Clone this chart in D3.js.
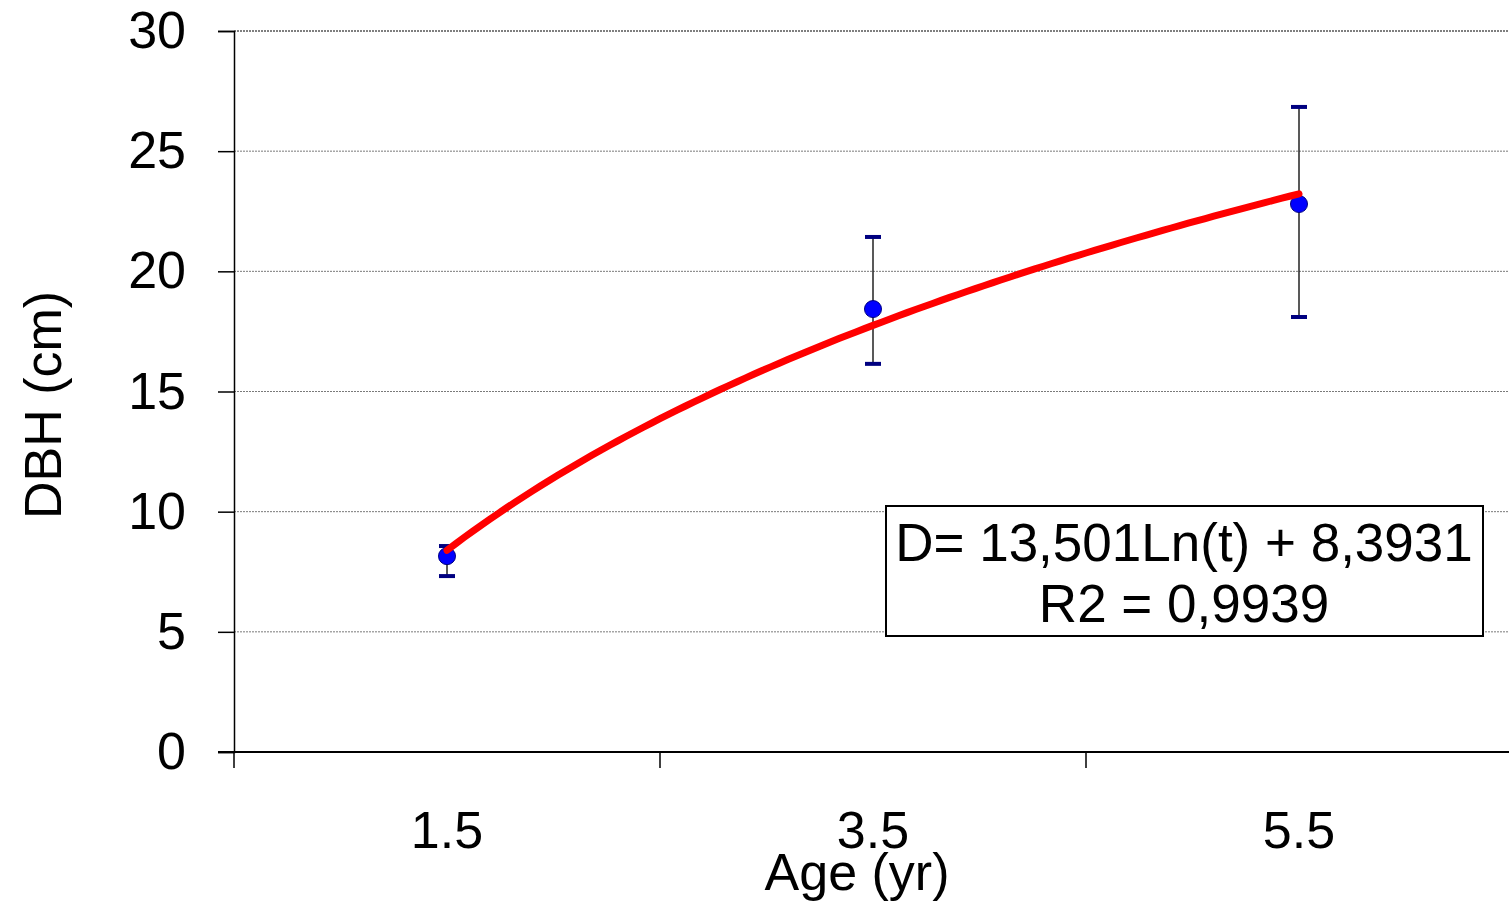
<!DOCTYPE html>
<html>
<head>
<meta charset="utf-8">
<script src="https://cdn.jsdelivr.net/npm/d3@7"></script>
<style>
  body { margin: 0; background: #fff; }
  text { font-family: 'Liberation Sans', Arial, sans-serif; fill: #000; }
</style>
</head>
<body>
<div id="viz"></div>
<script>
'use strict';

// data
const ages = ['1.5', '3.5', '5.5'];
const dbhMean = [8.15, 18.43, 22.8];
const dbhLow = [7.32, 16.15, 18.1];
const dbhHigh = [8.57, 21.43, 26.84];
const yTicks = [0, 5, 10, 15, 20, 25, 30];

// trend line as printed on the chart: D = a Ln(t) + b, t = 1..3
const trendA = 13.501;
const trendB = 8.3931;
const trendText = ['D= 13,501Ln(t) + 8,3931', 'R2 = 0,9939'];

const W = 1509, H = 904;
const margin = {top: 31, right: 0, bottom: 152, left: 234};
const height = H - margin.top - margin.bottom;

const svg = d3.select('#viz')
  .append('svg')
    .attr('width', W)
    .attr('height', H);

const x = d3.scaleBand()
  .domain(ages)
  .range([margin.left, margin.left + 3 * 426]);

// continuous index scale for the trend line (t = 1 at first category)
const t = d3.scaleLinear()
  .domain([0.5, 3.5])
  .range([margin.left, margin.left + 3 * 426]);

const y = d3.scaleLinear()
  .domain([0, 30])
  .range([margin.top + height, margin.top]);

// gridlines
svg.append('g')
  .selectAll('line')
  .data(yTicks.filter(d => d > 0))
  .join('line')
    .attr('x1', margin.left)
    .attr('x2', W)
    .attr('y1', d => y(d))
    .attr('y2', d => y(d))
    .attr('stroke', d => d === 30 ? '#555' : '#7a7a7a')
    .attr('stroke-width', d => d === 30 ? 1.5 : 1)
    .attr('stroke-dasharray', '2,1');

// Y axis
const yAxis = svg.append('g')
  .attr('transform', `translate(${margin.left},0)`)
  .call(d3.axisLeft(y).tickValues(yTicks).tickSize(16).tickPadding(32));
yAxis.select('.domain').attr('stroke', '#000').attr('stroke-width', 1.5);
yAxis.selectAll('.tick line').attr('stroke', '#000').attr('stroke-width', 1.5);
yAxis.selectAll('.tick text')
  .attr('font-size', 52)
  .attr('font-family', "'Liberation Sans', Arial, sans-serif");

// X axis line
svg.append('line')
  .attr('x1', margin.left - 16)
  .attr('x2', W)
  .attr('y1', y(0))
  .attr('y2', y(0))
  .attr('stroke', '#000')
  .attr('stroke-width', 2);

// X ticks at category boundaries
svg.append('g')
  .selectAll('line')
  .data(ages)
  .join('line')
    .attr('x1', d => x(d))
    .attr('x2', d => x(d))
    .attr('y1', y(0))
    .attr('y2', y(0) + 16)
    .attr('stroke', '#000')
    .attr('stroke-width', 1.5);

svg.append('g')
  .selectAll('text')
  .data(ages)
  .join('text')
    .attr('x', d => x(d) + x.bandwidth() / 2)
    .attr('y', 848)
    .attr('text-anchor', 'middle')
    .attr('font-size', 52)
    .text(d => d);

// axis titles
svg.append('text')
  .attr('x', 857)
  .attr('y', 890)
  .attr('text-anchor', 'middle')
  .attr('font-size', 52)
  .text('Age (yr)');

svg.append('text')
  .attr('transform', 'translate(61,405) rotate(-90)')
  .attr('text-anchor', 'middle')
  .attr('font-size', 52)
  .text('DBH (cm)');

// error bars
const cx = d => x(d) + x.bandwidth() / 2;
const bars = svg.append('g')
  .selectAll('g')
  .data(ages)
  .join('g');

bars.append('line')
  .attr('x1', cx).attr('x2', cx)
  .attr('y1', (d, i) => y(dbhHigh[i]))
  .attr('y2', (d, i) => y(dbhLow[i]))
  .attr('stroke', '#222')
  .attr('stroke-width', 1.5);

for (const arr of [dbhHigh, dbhLow]) {
  bars.append('line')
    .attr('x1', d => cx(d) - 8).attr('x2', d => cx(d) + 8)
    .attr('y1', (d, i) => y(arr[i]))
    .attr('y2', (d, i) => y(arr[i]))
    .attr('stroke', '#000080')
    .attr('stroke-width', 4);
}

// points
svg.append('g')
  .selectAll('circle')
  .data(ages)
  .join('circle')
    .attr('cx', cx)
    .attr('cy', (d, i) => y(dbhMean[i]))
    .attr('r', 8.5)
    .attr('fill', '#0000ff')
    .attr('stroke', '#000080')
    .attr('stroke-width', 1);

// trend line
const tVals = d3.range(1, 3.0001, 0.02);
svg.append('path')
  .datum(tVals)
  .attr('fill', 'none')
  .attr('stroke', '#ff0000')
  .attr('stroke-width', 7)
  .attr('stroke-linecap', 'round')
  .attr('d', d3.line()
    .x(d => t(d))
    .y(d => y(trendA * Math.log(d) + trendB)));

// equation box
const box = svg.append('g');
box.append('rect')
  .attr('x', 886)
  .attr('y', 506)
  .attr('width', 597)
  .attr('height', 130)
  .attr('fill', '#fff')
  .attr('stroke', '#000')
  .attr('stroke-width', 2);

box.selectAll('text')
  .data(trendText)
  .join('text')
    .attr('x', 1184)
    .attr('y', (d, i) => 561 + i * 61)
    .attr('text-anchor', 'middle')
    .attr('font-size', 53)
    .text(d => d);
</script>
</body>
</html>
